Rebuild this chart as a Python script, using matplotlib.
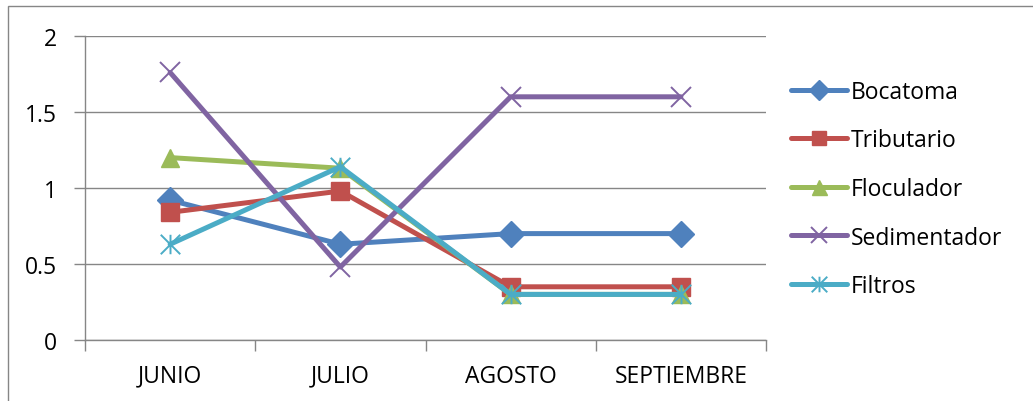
import numpy as np
import matplotlib.pyplot as plt
from matplotlib.path import Path
from matplotlib.patches import Rectangle

meses = ["JUNIO", "JULIO", "AGOSTO", "SEPTIEMBRE"]

bocatoma = [0.92, 0.63, 0.70, 0.70]
tributario = [0.84, 0.98, 0.35, 0.35]
floculador = [1.20, 1.13, 0.30, 0.30]
sedimentador = [1.76, 0.48, 1.60, 1.60]
filtros = [0.63, 1.14, 0.30, 0.30]

# asterisco tipo excel: una x con una barra vertical
star = Path([(-1, -1), (1, 1), (-1, 1), (1, -1), (0, -1), (0, 1)],
            [Path.MOVETO, Path.LINETO, Path.MOVETO, Path.LINETO, Path.MOVETO, Path.LINETO])

series = [
    ("Bocatoma", bocatoma, "#4F81BD", "D", 13, True),
    ("Tributario", tributario, "#C0504D", "s", 13, True),
    ("Floculador", floculador, "#9BBB59", "^", 13.5, True),
    ("Sedimentador", sedimentador, "#8064A2", "x", 14, False),
    ("Filtros", filtros, "#4BACC6", star, 14, False),
]

gris = "#868686"
fs = 16.5
plt.rcParams["font.family"] = ["Open Sans", "DejaVu Sans"]

fig = plt.figure(figsize=(10.33, 4.02), dpi=100)
W, H = 1033, 402
ax = fig.add_axes([85 / W, 1 - 341 / H, (766 - 85) / W, (341 - 37) / H])

x = np.arange(len(meses))
for nombre, vals, color, mk, ms, relleno in series:
    ax.plot(x, vals, color=color, lw=3.6, marker=mk, markersize=ms,
            markerfacecolor=color if relleno else "none",
            markeredgecolor=color, markeredgewidth=1.0 if relleno else 1.4,
            label=nombre, solid_capstyle="round", clip_on=False)

ax.set_xlim(-0.5, 3.5)
ax.set_ylim(0, 2)
ax.set_yticks([0, 0.5, 1, 1.5, 2])
ax.set_yticklabels(["0", "0.5", "1", "1.5", "2"])
ax.set_xticks(np.arange(-0.5, 4, 1))
ax.set_xticklabels([])
ax.set_xticks(x, minor=True)
ax.set_xticklabels(meses, minor=True)
ax.tick_params(axis="x", which="minor", length=0, pad=17, labelsize=fs)
ax.tick_params(axis="x", which="major", length=8, width=1, color=gris, direction="out")
ax.tick_params(axis="y", length=8, width=1, color=gris, pad=12, labelsize=fs)

ax.grid(axis="y", color=gris, lw=1)
ax.set_axisbelow(True)
for s in ["top", "right"]:
    ax.spines[s].set_visible(False)
for s in ["left", "bottom"]:
    ax.spines[s].set_color(gris)
    ax.spines[s].set_linewidth(1)

fig.legend(loc="center left", bbox_to_anchor=(791 / W, 1 - 190 / H), frameon=False,
           fontsize=fs, handlelength=2.45, handletextpad=0.17, labelspacing=1.07,
           markerscale=0.8, borderaxespad=0, borderpad=0)

# marco exterior del grafico
fig.patches.append(Rectangle((8 / W, -0.1), 1.2, 1 - 7 / H + 0.1, transform=fig.transFigure,
                             fill=False, edgecolor=gris, lw=1))

fig.savefig("out.png", dpi=100)
